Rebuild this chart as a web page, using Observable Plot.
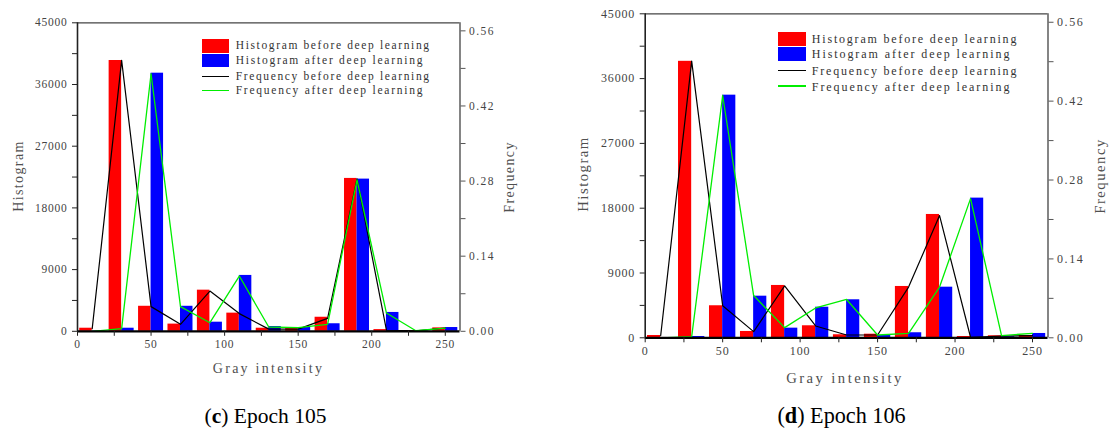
<!DOCTYPE html>
<html>
<head>
<meta charset="utf-8">
<script src="https://cdn.jsdelivr.net/npm/d3@7"></script>
<script src="https://cdn.jsdelivr.net/npm/@observablehq/plot@0.6"></script>
<style>
  body { margin: 0; background: #fff; }
  #root { position: relative; width: 1110px; height: 430px; overflow: hidden; background: #fff; }
  .abs { position: absolute; white-space: nowrap; }
  .serif { font-family: "Liberation Serif", "DejaVu Serif", serif; }
  .title { color: #505050; }
  .leg { color: #333; }
  .cap { font-family: "Liberation Serif", serif; color: #000; }
</style>
</head>
<body>
<div id="root"></div>
<script>
// ---------- data ----------
const bins = [10, 30, 50, 70, 90, 110, 130, 150, 170, 190, 210, 230, 250];

// Epoch 105
const histBefore105 = [450, 39500, 3650, 1050, 6000, 2650, 450, 400, 2050, 22300, 250, 80, 500];
const histAfter105  = [50, 450, 37650, 3650, 1330, 8150, 700, 550, 1100, 22200, 2750, 50, 550];
const freqBefore105 = [0.005, 0.505, 0.046, 0.013, 0.075, 0.033, 0.004, 0.004, 0.024, 0.284, 0.002, 0.001, 0.006];
const freqAfter105  = [0.000, 0.005, 0.480, 0.046, 0.016, 0.103, 0.008, 0.007, 0.013, 0.282, 0.034, 0.001, 0.006];

// Epoch 106
const histBefore106 = [320, 38400, 4450, 880, 7270, 1670, 420, 500, 7130, 17130, 180, 280, 320];
const histAfter106  = [30, 180, 33700, 5780, 1340, 4250, 5280, 320, 700, 7030, 19400, 150, 600];
const freqBefore106 = [0.004, 0.491, 0.057, 0.011, 0.092, 0.021, 0.005, 0.005, 0.090, 0.217, 0.001, 0.003, 0.004];
const freqAfter106  = [0.000, 0.002, 0.430, 0.075, 0.018, 0.053, 0.068, 0.005, 0.008, 0.090, 0.247, 0.004, 0.008];

// axes
const histTicks = [0, 9000, 18000, 27000, 36000, 45000];
const histMinor = [4500, 13500, 22500, 31500, 40500];
const freqTicks = [0, 0.14, 0.28, 0.42, 0.56];
const freqMinor = [0.07, 0.21, 0.35, 0.49];
const xTicks = [0, 50, 100, 150, 200, 250];
const xMinor = [25, 75, 125, 175, 225];
const histMax = 45000;
const freqMax = 0.575;
const xMax = 260;

const legendLabels = [
  "Histogram before deep learning",
  "Histogram after deep learning",
  "Frequency before deep learning",
  "Frequency after deep learning"
];
const colors = ["#ff0000", "#0000ff", "#000000", "#00ee00"];
const xTitle = "Gray intensity";
const yTitle = "Histogram";
const y2Title = "Frequency";

// ---------- layout ----------
const panels = [
  {
    left: 0, width: 555, height: 400,
    mL: 77, mR: 95.5, mT: 22.3, mB: 69.2,
    fs: 11.5, pc: 6.5, tfs: 14, tpc: 7.95, lfs: 11.5, lpc: 6.5,
    hb: histBefore105, ha: histAfter105, fb: freqBefore105, fa: freqAfter105,
    tag: "c", caption: " Epoch 105", capX: 265.5, capBase: 424, capFs: 21.5,
    yT: [19, 176], y2T: [510.3, 176.7], xT: [268.5, 369.3],
    leg: { sx: 202, sw: 27, rect: [[39.3, 52.7], [54, 66.7]], lines: [76.7, 90.7], tx: 235.7, ty: [46, 61, 76.7, 91] }
  },
  {
    left: 555, width: 555, height: 400,
    mL: 89.7, mR: 62.5, mT: 13.3, mB: 62.7,
    fs: 12, pc: 6.85, tfs: 14.7, tpc: 8.4, lfs: 12, lpc: 6.88,
    hb: histBefore106, ha: histAfter106, fb: freqBefore106, fa: freqAfter106,
    tag: "d", caption: " Epoch 106", capX: 841.5, capBase: 423.3, capFs: 22.2,
    yT: [582.8, 174], y2T: [1100, 175.8], xT: [845, 377.7],
    leg: { sx: 777.5, sw: 28, rect: [[32.3, 46], [47.3, 61]], lines: [70.7, 86], tx: 811.8, ty: [39.3, 54.3, 71.3, 86.7] }
  }
];

const root = document.getElementById("root");
const K = histMax / freqMax;
const W = 8.5;

// spread text so each character takes the same advance as in the reference font
function fitHtml(el, perChar) {
  const n = el.textContent.length;
  const w = el.getBoundingClientRect().width;
  el.style.letterSpacing = ((perChar * n - w) / n) + "px";
}
function fitSvg(t, perChar) {
  const n = t.textContent.length;
  if (!n) return;
  const w = t.getComputedTextLength();
  t.style.letterSpacing = ((perChar * n - w) / n) + "px";
}

function addTitle(text, x, y, rotate, fs, perChar) {
  const d = document.createElement("div");
  d.className = "abs serif title";
  d.textContent = text;
  d.style.left = x + "px";
  d.style.top = y + "px";
  d.style.fontSize = fs + "px";
  d.style.lineHeight = "1";
  root.appendChild(d);
  fitHtml(d, perChar);
  d.style.transform = "translate(-50%,-50%)" + (rotate ? " rotate(-90deg)" : "");
  return d;
}

for (const p of panels) {
  const rows = bins.map((b, i) => ({ bin: b, before: p.hb[i], after: p.ha[i], fb: p.fb[i], fa: p.fa[i] }));
  const chart = Plot.plot({
    width: p.width, height: p.height,
    marginLeft: p.mL, marginRight: p.mR, marginTop: p.mT, marginBottom: p.mB,
    style: { fontFamily: "Liberation Serif, serif", fontSize: p.fs + "px", background: "transparent", color: "#444", overflow: "visible" },
    x: { domain: [0, xMax], label: null },
    y: { domain: [0, histMax], label: null },
    marks: [
      Plot.rect(rows, { x1: d => d.bin - W, x2: "bin", y1: d => 0, y2: "before", fill: colors[0] }),
      Plot.rect(rows, { x1: "bin", x2: d => d.bin + W, y1: d => 0, y2: "after", fill: colors[1] }),
      Plot.line(rows, { x: "bin", y: d => d.fb * K, stroke: colors[2], strokeWidth: 1.2 }),
      Plot.line(rows, { x: "bin", y: d => d.fa * K, stroke: colors[3], strokeWidth: 1.3 }),
      Plot.ruleY([histMax], { stroke: "#444", strokeWidth: 1.2 }),
      Plot.ruleX([xMax], { stroke: "#666", strokeWidth: 1.6 }),
      Plot.ruleX([0], { stroke: "#222", strokeWidth: 1.6 }),
      Plot.ruleY([0], { stroke: "#000", strokeWidth: 2.2 }),
      Plot.axisY(histTicks, { anchor: "left", tickSize: 5, tickPadding: 5, tickFormat: d => String(d), stroke: "#222", fill: "#444", label: null }),
      Plot.axisY(histMinor, { anchor: "left", tickSize: 5, tickFormat: () => "", stroke: "#222", label: null }),
      Plot.axisY(freqTicks.map(f => f * K), { anchor: "right", tickSize: 5, tickPadding: 4, tickFormat: d => (d / K).toFixed(2), stroke: "#555", fill: "#444", label: null }),
      Plot.axisY(freqMinor.map(f => f * K), { anchor: "right", tickSize: 5, tickFormat: () => "", stroke: "#555", label: null }),
      Plot.axisX(xTicks, { anchor: "bottom", tickSize: 5, tickPadding: 4, stroke: "#222", fill: "#444", label: null }),
      Plot.axisX(xMinor, { anchor: "bottom", tickSize: 5, tickFormat: () => "", stroke: "#222", label: null })
    ]
  });
  chart.style.position = "absolute";
  chart.style.left = p.left + "px";
  chart.style.top = "0px";
  root.appendChild(chart);
  chart.querySelectorAll("text").forEach(t => fitSvg(t, p.pc));

  // axis titles
  addTitle(yTitle, p.yT[0], p.yT[1], true, p.tfs, p.tpc);
  addTitle(y2Title, p.y2T[0], p.y2T[1], true, p.tfs, p.tpc);
  addTitle(xTitle, p.xT[0], p.xT[1], false, p.tfs, p.tpc);

  // legend
  const L = p.leg;
  L.rect.forEach((r, i) => {
    const s = document.createElement("div");
    s.className = "abs";
    Object.assign(s.style, { left: L.sx + "px", top: r[0] + "px", width: L.sw + "px", height: (r[1] - r[0]) + "px", background: colors[i] });
    root.appendChild(s);
  });
  L.lines.forEach((y, i) => {
    const s = document.createElement("div");
    s.className = "abs";
    Object.assign(s.style, { left: L.sx + "px", top: (y - 0.75) + "px", width: L.sw + "px", height: "1.5px", background: colors[i + 2] });
    root.appendChild(s);
  });
  legendLabels.forEach((t, i) => {
    const d = document.createElement("div");
    d.className = "abs serif leg";
    d.textContent = t;
    Object.assign(d.style, { left: L.tx + "px", top: L.ty[i] + "px", fontSize: p.lfs + "px", lineHeight: "1" });
    root.appendChild(d);
    fitHtml(d, p.lpc);
    d.style.transform = "translateY(-50%)";
  });

  // caption
  const c = document.createElement("div");
  c.className = "abs cap";
  c.innerHTML = "(<b>" + p.tag + "</b>)" + p.caption;
  c.style.fontSize = p.capFs + "px";
  c.style.lineHeight = p.capFs + "px";
  c.style.left = p.capX + "px";
  c.style.top = (p.capBase - 0.8365 * p.capFs) + "px";
  c.style.transform = "translateX(-50%)";
  root.appendChild(c);
}
</script>
</body>
</html>
